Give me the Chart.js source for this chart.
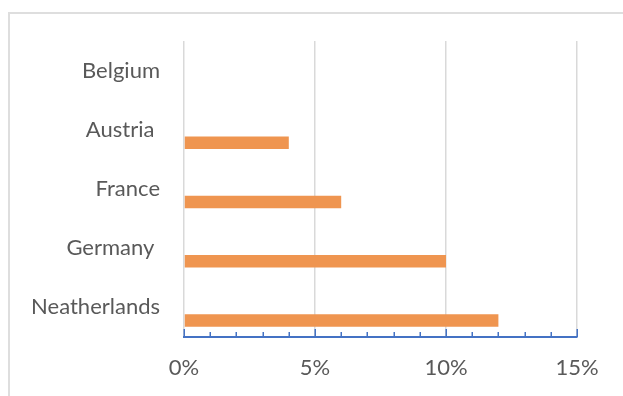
<!DOCTYPE html>
<html>
<head>
<meta charset="utf-8">
<script src="https://cdn.jsdelivr.net/npm/chart.js@4/dist/chart.umd.min.js"></script>
<style>
  html, body { margin: 0; padding: 0; background: #ffffff; overflow: hidden; }
  #frame { position: absolute; left: 8px; top: 12px; width: 800px; height: 600px;
           border: 2px solid #dedede; box-sizing: border-box; }
  #wrap { position: absolute; left: 0; top: 0; width: 623px; height: 396px; }
</style>
</head>
<body>
<div id="frame"></div>
<div id="wrap"><canvas id="chart" width="623" height="396"></canvas></div>
<script>
// Share by country (%), listed top to bottom
const countries = ['Belgium', 'Austria ', 'France', 'Germany ', 'Neatherlands'];
const shares = [0, 4, 6, 10, 12];
// Second (empty) series slot kept so bars sit in the lower half of each band
const emptySeries = [];
const axisMin = 0;
const axisMax = 15;
const majorStep = 5;
const minorStep = 1;

const textColor = '#595959';
const axisBlue = '#4472C4';
const gridGray = '#d9d9d9';
const barOrange = '#EF9550';
const fontFamily = 'Lato, "Open Sans", sans-serif';

// Inside tick marks along the value axis (major every 5%, minor every 1%)
const insideTicks = {
  id: 'insideTicks',
  afterDraw(chart) {
    const x = chart.scales.x;
    const ctx = chart.ctx;
    const baseY = x.top;
    ctx.save();
    ctx.strokeStyle = axisBlue;
    ctx.lineWidth = 1.5;
    for (let v = axisMin; v <= axisMax; v += minorStep) {
      const px = Math.round(x.getPixelForValue(v)) + 0.25;
      const len = (v % majorStep === 0) ? 8 : 5;
      ctx.beginPath();
      ctx.moveTo(px, baseY);
      ctx.lineTo(px, baseY - len);
      ctx.stroke();
    }
    ctx.restore();
  }
};

new Chart(document.getElementById('chart'), {
  type: 'bar',
  data: {
    labels: countries,
    datasets: [
      { label: '', data: emptySeries, backgroundColor: 'rgba(0,0,0,0)' },
      { label: 'Share', data: shares, backgroundColor: barOrange, borderWidth: 0 }
    ]
  },
  options: {
    indexAxis: 'y',
    responsive: false,
    animation: false,
    categoryPercentage: 0.88,
    barPercentage: 0.48,
    layout: { padding: { left: 0, top: 41, right: 46, bottom: 0 } },
    plugins: { legend: { display: false }, tooltip: { enabled: false } },
    scales: {
      x: {
        type: 'linear',
        min: axisMin,
        max: axisMax,
        afterFit(scale) { scale.height = 59; },
        ticks: {
          stepSize: majorStep,
          color: textColor,
          font: { family: fontFamily, size: 22 },
          padding: 18,
          callback: (v) => v + '%'
        },
        grid: { color: gridGray, lineWidth: 1.5, drawTicks: false },
        border: { color: axisBlue, width: 2 }
      },
      y: {
        afterFit(scale) { scale.width = 184; },
        ticks: {
          color: textColor,
          font: { family: fontFamily, size: 22 },
          padding: 24
        },
        grid: { display: false, drawTicks: false },
        border: { display: false }
      }
    }
  },
  plugins: [insideTicks]
});
</script>
</body>
</html>
